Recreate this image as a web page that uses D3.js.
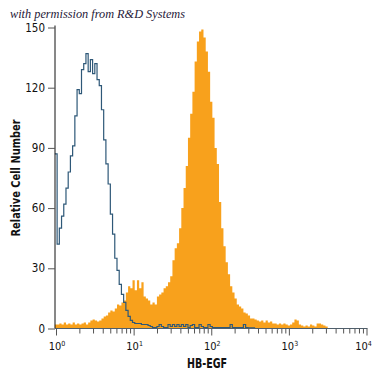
<!DOCTYPE html>
<html>
<head>
<meta charset="utf-8">
<script src="https://cdn.jsdelivr.net/npm/d3@7"></script>
<style>
	body { margin: 0; background: #fff; }
	svg { display: block; }
</style>
</head>
<body>
<div id="chart"></div>
<script>
// histogram channels: 35 bins per decade, bin i centred at 10^(i/35)
const binsPerDecade = 35;

// isotype control (blue outline)
const isotypeCounts = [
	87, 42, 50, 56, 62, 70, 78, 86, 91, 106,
	119, 117, 129, 132, 137, 128, 134, 127, 132, 124,
	121, 109, 94, 82, 72, 57, 47, 35, 29, 22,
	17, 13, 9, 6, 4, 3, 2.5, 2.5, 2.5, 2,
	2, 2, 1.5, 1, 0.5, 0.5, 1, 2, 1, 0.5,
	0.5, 2, 1, 2, 1, 2, 1, 2, 1, 2,
	0.5, 1.5, 2, 0.5, 0.5, 2, 1, 0.5, 0.5, 2,
	1, 0.5, 0.5, 0.5, 0.5, 0.5, 0.5, 0.5, 0.5, 2,
	0.5, 0.5, 0.5, 0.5, 0.5, 2, 0.5, 0.3, 0.3, 0.3,
	0, 0, 0, 0, 0, 0, 0, 0, 0, 0,
	0, 0, 0, 0, 0, 0, 0, 0, 0, 0,
	0, 0, 0, 0, 0, 0, 0, 0, 0, 0,
	0, 0, 0, 0, 0, 0, 0, 0, 0, 0,
	0, 0, 0, 0, 0, 0, 0, 0, 0, 0
];

// HB-EGF stained cells (orange fill)
const hbegfCounts = [
	2, 2, 2.5, 2, 3, 2, 2.5, 2, 3, 2,
	2.5, 2, 2.5, 3, 2, 3, 4, 4.5, 4, 3.5,
	4, 5, 6, 6.5, 8, 9, 8.5, 10, 12, 11.5,
	13, 14, 18, 21, 20, 24, 19, 24, 20, 23,
	16, 15, 14, 12, 13, 12, 16, 17, 18, 20,
	21, 23, 26, 34, 40, 42.5, 50, 60, 70, 81,
	95, 107, 118, 133, 143, 148, 149, 145, 138, 128,
	113, 105, 90, 82, 63, 50, 41, 33, 27, 21,
	18, 15, 12, 11, 10, 8, 7.5, 6.5, 5, 5,
	4.5, 4, 3.5, 4, 3, 4, 3, 3.5, 2.5, 2.5,
	2, 2.5, 2, 2.5, 2, 1.5, 2, 3, 4.5, 4,
	2, 1.5, 1, 1.5, 1, 2, 1.5, 1, 2.5, 2.5,
	2, 1.5, 1, 0
];

const yTickValues = [0, 30, 60, 90, 120, 150];
const xDecades = [0, 1, 2, 3, 4];
const xMinorSteps = [2, 3, 4, 5, 6, 7, 8, 9];

const width = 375;
const height = 375;
const plot = { left: 56, right: 366.5, top: 27.5, bottom: 328.5 };

const svg = d3.select('#chart').append('svg')
	.attr('width', width)
	.attr('height', height);

const x = d3.scaleLog()
	.domain([1, 1e4])
	.range([plot.left, plot.right]);
const y = d3.scaleLinear()
	.domain([0, 150])
	.range([plot.bottom, plot.top]);

// turn bin counts into step corners
const binEdge = i => Math.pow(10, (i - 0.5) / binsPerDecade);
const toSteps = counts => counts.flatMap((v, i) => [[binEdge(i), v], [binEdge(i + 1), v]]);

const area = d3.area()
	.x(d => x(d[0]))
	.y0(y(0))
	.y1(d => y(d[1]));
const line = d3.line()
	.x(d => x(d[0]))
	.y(d => y(d[1]));

svg.append('path')
	.datum(toSteps(hbegfCounts))
	.attr('d', area)
	.style('fill', '#f8a11c');

svg.append('path')
	.datum(toSteps(isotypeCounts))
	.attr('d', line)
	.style('fill', 'none')
	.style('stroke', '#2e5878')
	.style('stroke-width', 1.2);

/* --------- axes --------- */
const tickFont = '"Liberation Sans Narrow", "Arial Narrow", "DejaVu Sans Condensed", sans-serif';

const yAxis = svg.append('g')
	.attr('transform', `translate(${plot.left - 1}, 0)`)
	.call(d3.axisLeft(y).tickValues(yTickValues).tickSize(7).tickPadding(3));
yAxis.select('.domain').style('stroke', '#111').attr('d', `M0,${plot.top - 2}V${plot.bottom}`);
yAxis.selectAll('.tick line').style('stroke', '#555');
yAxis.selectAll('.tick text')
	.style('font-family', tickFont)
	.style('font-size', '11.5px')
	.style('fill', '#111');

const majorTicks = xDecades.map(d => Math.pow(10, d));
const minorTicks = xDecades.slice(0, -1)
	.flatMap(d => xMinorSteps.map(m => m * Math.pow(10, d)));

const xAxis = svg.append('g')
	.attr('transform', `translate(0, ${plot.bottom})`)
	.call(d3.axisBottom(x).tickValues(majorTicks.concat(minorTicks)).tickSize(6).tickFormat(() => ''));
xAxis.select('.domain').style('stroke', '#4f5f6c').attr('d', `M${plot.left - 1},0H${plot.right + 1}`);
xAxis.selectAll('.tick line')
	.style('stroke', '#555')
	.attr('y2', d => majorTicks.includes(d) ? 7 : 5);

// decade labels 10^n
const xLabels = svg.append('g')
	.style('font-family', tickFont)
	.style('fill', '#111')
	.selectAll('text')
		.data(xDecades)
		.enter().append('text')
			.attr('x', d => x(Math.pow(10, d)) + (d === 4 ? -3 : 1))
			.attr('y', plot.bottom + 21)
			.attr('text-anchor', 'middle')
			.style('font-size', '11px');
xLabels.append('tspan').text('10');
xLabels.append('tspan')
	.attr('dy', -4)
	.style('font-size', '7px')
	.text(d => d);

/* --------- titles --------- */
svg.append('text')
	.attr('x', 207)
	.attr('y', 368)
	.attr('text-anchor', 'middle')
	.attr('textLength', 40)
	.attr('lengthAdjust', 'spacingAndGlyphs')
	.style('font-family', tickFont)
	.style('font-weight', 'bold')
	.style('font-size', '13.5px')
	.style('fill', '#111')
	.text('HB-EGF');

svg.append('text')
	.attr('transform', `translate(19.5, 178) rotate(-90)`)
	.attr('text-anchor', 'middle')
	.attr('textLength', 117)
	.attr('lengthAdjust', 'spacingAndGlyphs')
	.style('font-family', tickFont)
	.style('font-weight', 'bold')
	.style('font-size', '13px')
	.style('fill', '#111')
	.text('Relative Cell Number');

svg.append('text')
	.attr('x', 10)
	.attr('y', 18)
	.attr('textLength', 175)
	.attr('lengthAdjust', 'spacingAndGlyphs')
	.style('font-family', '"Liberation Serif", "DejaVu Serif", serif')
	.style('font-style', 'italic')
	.style('font-size', '12.5px')
	.style('fill', '#1f2038')
	.text('with permission from R&D Systems');
</script>
</body>
</html>
